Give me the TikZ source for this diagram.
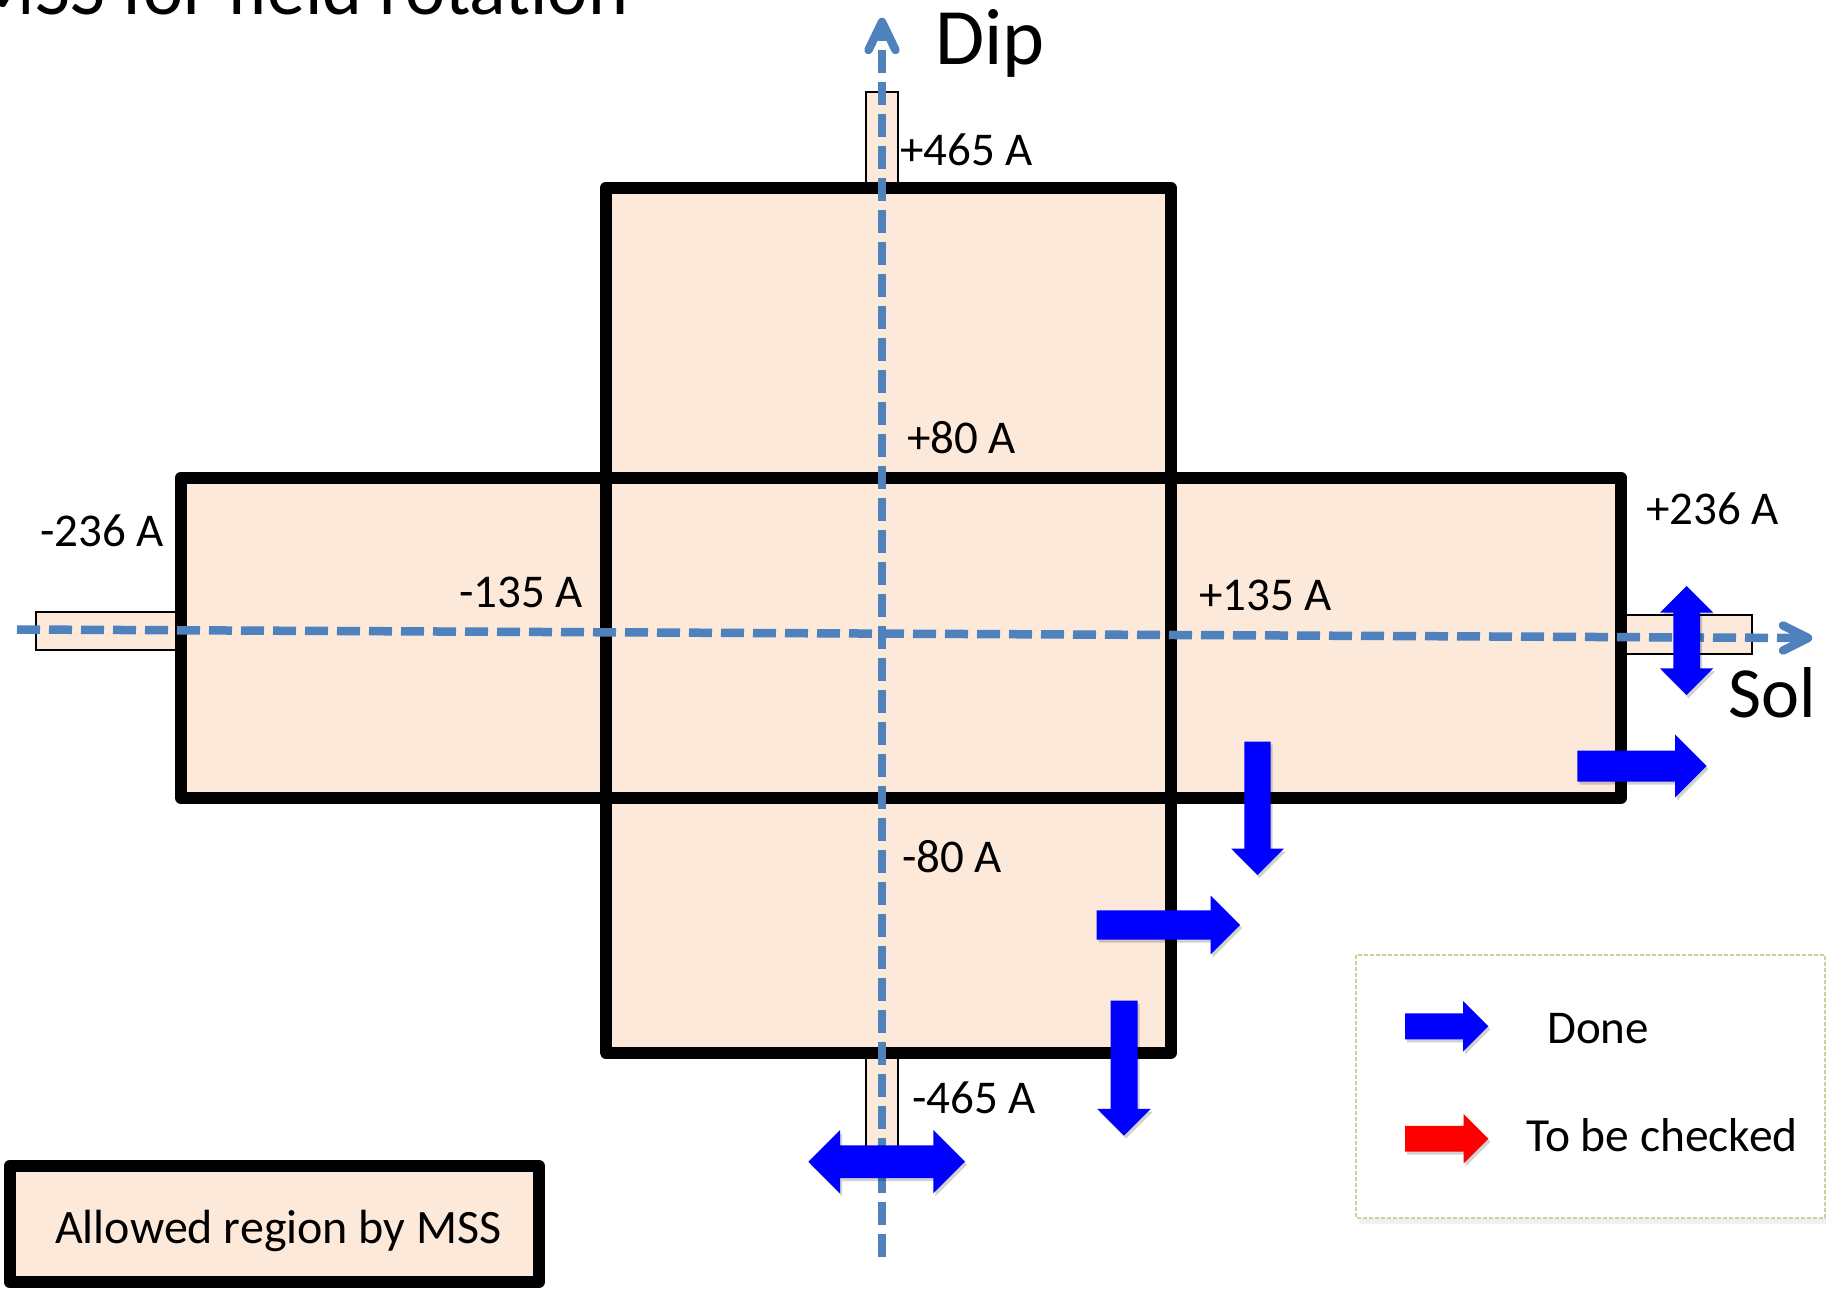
\documentclass[tikz,border=0pt]{standalone}
\usepackage{fontspec}
\setmainfont{Carlito}
\definecolor{peach}{HTML}{FCE9DA}
\definecolor{axisblue}{HTML}{4F81BD}
\definecolor{legendgreen}{HTML}{C3D69B}
\definecolor{doneblue}{HTML}{0000FF}
\definecolor{checkred}{HTML}{FF0000}
% single block arrow: colour, tail x, tail y, angle, length, shaft half-width, head half-width
\newcommand{\blockarrow}[7]{%
  \begin{scope}[shift={(#2+2,#3+3)}, rotate=#4]
    \fill[black, opacity=0.18] (0,-#6) -- ({#5-#7},-#6) -- ({#5-#7},-#7) -- (#5,0) -- ({#5-#7},#7) -- ({#5-#7},#6) -- (0,#6) -- cycle;
  \end{scope}
  \begin{scope}[shift={(#2,#3)}, rotate=#4]
    \fill[#1] (0,-#6) -- ({#5-#7},-#6) -- ({#5-#7},-#7) -- (#5,0) -- ({#5-#7},#7) -- ({#5-#7},#6) -- (0,#6) -- cycle;
  \end{scope}}
% double block arrow: colour, tip x, tip y, angle, length, shaft half-width, head half-width
\newcommand{\twinarrow}[7]{%
  \begin{scope}[shift={(#2+2,#3+3)}, rotate=#4]
    \fill[black, opacity=0.18] (0,0) -- (#7,-#7) -- (#7,-#6) -- ({#5-#7},-#6) -- ({#5-#7},-#7) -- (#5,0) -- ({#5-#7},#7) -- ({#5-#7},#6) -- (#7,#6) -- (#7,#7) -- cycle;
  \end{scope}
  \begin{scope}[shift={(#2,#3)}, rotate=#4]
    \fill[#1] (0,0) -- (#7,-#7) -- (#7,-#6) -- ({#5-#7},-#6) -- ({#5-#7},-#7) -- (#5,0) -- ({#5-#7},#7) -- ({#5-#7},#6) -- (#7,#6) -- (#7,#7) -- cycle;
  \end{scope}}
\begin{document}
\begin{tikzpicture}[x=1pt, y=-1pt,
  region/.style={draw=black, line width=12pt, line join=round},
  stub/.style={fill=peach, draw=black, line width=2pt},
  axisline/.style={draw=axisblue, line width=8.5pt, dash pattern=on 23pt off 9pt},
  axishead/.style={draw=axisblue, line width=8.5pt, line cap=round, line join=round},
  lbl/.style={inner sep=0pt, anchor=base west, font=\fontsize{47}{56}\selectfont},
  big/.style={inner sep=0pt, anchor=base west}]
\useasboundingbox (0,0) rectangle (1826,1290);
\fill[white] (0,0) rectangle (1826,1290);

% title (cut off at the top, as in the reference)
\node[big, font=\fontsize{76}{90}\selectfont] (title) at (-30,15) {MSS for field rotation};

% small stubs
\filldraw[stub] (865.7,92) rectangle (897.7,190);
\filldraw[stub] (865.7,1050) rectangle (897.7,1168);
\filldraw[stub] (36,612) rectangle (185,650);
\filldraw[stub] (1615,615) rectangle (1752,654);

% allowed regions
\fill[peach] (605.5,188) rectangle (1171,1052.5);
\fill[peach] (181,477.5) rectangle (1621,798);
\draw[region] (605.5,188) rectangle (1171,1052.5);
\draw[region] (181,477.5) rectangle (1621,798);

% key box
\filldraw[fill=peach, draw=black, line width=12pt, line join=round] (9.5,1166) rectangle (539,1282);
\node[lbl, font=\fontsize{48}{58}\selectfont] (allowed) at (55,1243) {Allowed region by MSS};

% legend box
\fill[black, opacity=0.06] (1359,959) rectangle (1840,1224);
\filldraw[fill=white, draw=legendgreen, line width=1.5pt, dash pattern=on 4pt off 2pt] (1356,955) rectangle (1825,1218);
\node[big, font=\fontsize{47}{56}\selectfont] (done) at (1547,1043) {Done};
\node[big, font=\fontsize{47.5}{57}\selectfont] (tbc) at (1526,1151) {To be checked};

% axes
\coordinate (dipfoot) at (882,1257);
\coordinate (diptip) at (882,22);
\coordinate (solfoot) at (17,629.5);
\coordinate (soltip) at (1808,638);
\draw[axisline] (dipfoot) -- (diptip);
\draw[axishead] ([shift={(-13.5,28)}]diptip) -- (diptip) -- ([shift={(13.5,28)}]diptip);
\draw[axisline] (solfoot) -- (soltip);
\draw[axishead] ([shift={(-25,-12.5)}]soltip) -- (soltip) -- ([shift={(-25,12.5)}]soltip);
\node[big, font=\fontsize{80}{96}\selectfont] (dip) at (935,65) {Dip};
\node[big, font=\fontsize{72}{86}\selectfont] (sol) at (1728,717) {Sol};

% current labels
\node[lbl] (p465) at (900,165) {+465 A};
\node[lbl] (p80) at (907,453) {+80 A};
\node[lbl] (m236) at (40,546) {-236 A};
\node[lbl] (m135) at (459,607) {-135 A};
\node[lbl] (p135) at (1199,610) {+135 A};
\node[lbl] (p236) at (1646,524) {+236 A};
\node[lbl] (m80) at (902,872) {-80 A};
\node[lbl] (m465) at (912,1113) {-465 A};

% block arrows
\blockarrow{doneblue}{1257.5}{741.7}{-90}{133.3}{13.2}{26.3}
\blockarrow{doneblue}{1096.7}{925}{0}{143.3}{14.6}{29.3}
\blockarrow{doneblue}{1124}{1000.7}{-90}{135}{13.5}{26.8}
\blockarrow{doneblue}{1577.3}{766}{0}{129.4}{15.5}{31.7}
\twinarrow{doneblue}{808.3}{1161.7}{0}{156.7}{16.3}{31.7}
\twinarrow{doneblue}{1686.7}{586}{-90}{109}{13.3}{26.7}
\blockarrow{doneblue}{1405}{1026.3}{0}{83.3}{13}{25.3}
\blockarrow{checkred}{1405}{1138.7}{0}{83.3}{12.8}{24.7}
\end{tikzpicture}
\end{document}
